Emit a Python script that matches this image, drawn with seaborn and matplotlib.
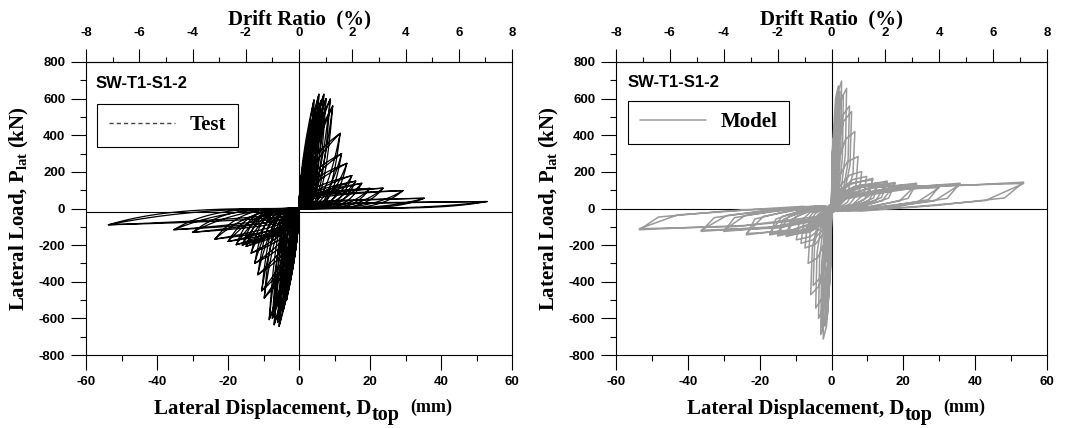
import numpy as np
import pandas as pd
import matplotlib
matplotlib.use("Agg")
import matplotlib.pyplot as plt
import seaborn as sns
from matplotlib.ticker import MultipleLocator
from matplotlib.lines import Line2D

# ---------------- data (cycle peaks) ----------------
test_pos_disp = [0.5, 1.0, 1.5, 2.0, 2.5, 3.0, 3.5, 4.2, 4.8, 5.6, 6.2, 7.0, 7.6, 8.8, 9.5,
                 11.6, 12.0, 13.5, 14.9, 16.0, 17.7, 20.0, 23.7, 29.3, 35.3, 53.0]
test_pos_load = [100, 200, 280, 340, 350, 430, 480, 593, 560, 624, 590, 624, 600, 598, 560,
                 411, 300, 247, 180, 150, 138, 110, 111, 98, 56, 38]
test_neg_disp = [-0.5, -1.0, -1.5, -2.0, -2.5, -3.0, -3.5, -4.5, -5.6, -6.0, -7.0, -7.5, -8.4, -9.8, -10.5,
                 -11.6, -12.5, -13.5, -14.9, -16.0, -17.7, -20.0, -23.7, -30.0, -35.3, -53.7]
test_neg_load = [-100, -200, -280, -350, -400, -450, -500, -560, -644, -620, -635, -600, -607, -489, -450,
                 -362, -300, -244, -207, -200, -198, -180, -167, -130, -116, -89]

model_pos_disp = [0.5, 1.0, 1.5, 1.9, 2.3, 2.8, 3.3, 4.2, 5.0, 5.6, 6.5, 7.4, 8.4, 9.8, 11.5,
                  13.0, 15.5, 17.7, 23.7, 30.0, 35.8, 53.5]
model_pos_load = [200, 380, 520, 669, 640, 696, 620, 656, 560, 529, 420, 284, 202, 175, 165,
                  142, 150, 142, 138, 120, 138, 144]
model_neg_disp = [-0.4, -0.8, -1.2, -1.8, -2.3, -2.7, -3.0, -3.6, -4.4, -5.1, -5.8, -6.5, -7.4, -8.5, -9.8,
                  -12.6, -15.0, -17.2, -23.7, -30.0, -36.3, -53.5]
model_neg_load = [-200, -380, -520, -640, -713, -650, -689, -600, -544, -420, -471, -300, -216, -190, -171,
                  -153, -150, -144, -144, -125, -125, -116]

panel_title = "SW-T1-S1-2"
x_ticks = [-60, -40, -20, 0, 20, 40, 60]
y_ticks = [-800, -600, -400, -200, 0, 200, 400, 600, 800]
drift_ticks = [-8, -6, -4, -2, 0, 2, 4, 6, 8]

# ---------------- loop shapes (rendering helpers) ----------------
def leaf(d, p, a, b, n=24):
    s = np.linspace(0.0, 1.0, n)
    xs = np.r_[d * s, d * s[::-1]]
    ys = np.r_[p * s ** a, p * s[::-1] ** b]
    return xs, ys

def test_path():
    X, Y = [], []
    for dp, pp, dn, pn in zip(test_pos_disp, test_pos_load, test_neg_disp, test_neg_load):
        for d, p in ((dp, pp), (dn, pn)):
            ad = abs(d)
            if ad <= 9.6:
                shapes = [(0.6, 4.0), (0.75, 2.6)]
            elif ad <= 18:
                shapes = [(0.4, 4.5), (0.55, 2.8)]
            else:
                shapes = [(0.2, 5.0), (0.3, 3.5)] if d > 0 else [(0.3, 3.5), (0.45, 2.4)]
            for a, b in shapes:
                xs, ys = leaf(d, p, a, b)
                X.append(xs); Y.append(ys)
    return np.concatenate(X), np.concatenate(Y)

SPIKE = ([0, 0.1, 0.6, 1.0, 0.92, 0.6, 0.15, 0], [0, 0.45, 0.9, 1.0, 0.45, 0.12, -0.03, 0])
WIDE = ([0, 0.05, 0.45, 0.75, 1.0, 0.9, 0.55, 0.15, 0], [0, 0.35, 0.8, 0.9, 1.0, 0.4, 0.12, -0.1, 0])
WIDE2 = ([0, 0.1, 0.5, 1.0, 0.8, 0.4, 0], [0, 0.5, 0.85, 0.95, 0.3, 0.05, 0])

def model_path():
    X, Y = [], []
    for dp, pp, dn, pn in zip(model_pos_disp, model_pos_load, model_neg_disp, model_neg_load):
        for d, p in ((dp, pp), (dn, pn)):
            shapes = [SPIKE] if abs(d) < 10 else [WIDE, WIDE2]
            for fx, fy in shapes:
                X.append(d * np.array(fx)); Y.append(p * np.array(fy))
    return np.concatenate(X), np.concatenate(Y)

tx, ty = test_path()
mx, my = model_path()
df_test = pd.DataFrame({"x": tx, "y": ty})
df_model = pd.DataFrame({"x": mx, "y": my})

# ---------------- style ----------------
sns.set_style("ticks")
plt.rcParams["font.family"] = ["Liberation Sans", "DejaVu Sans"]
plt.rcParams["axes.unicode_minus"] = False
plt.rcParams["text.color"] = "black"
plt.rcParams["xtick.color"] = "black"
plt.rcParams["ytick.color"] = "black"
plt.rcParams["axes.labelcolor"] = "black"
plt.rcParams["mathtext.fontset"] = "custom"
plt.rcParams["mathtext.rm"] = "Liberation Serif:bold"
plt.rcParams["mathtext.bf"] = "Liberation Serif:bold"
plt.rcParams["mathtext.it"] = "Liberation Serif:bold"

SERIF = dict(family="Liberation Serif", weight="bold")

fig = plt.figure(figsize=(10.65, 4.28), dpi=100)
axL = fig.add_axes([86 / 1065, 73 / 428, 426 / 1065, 293 / 428])
axR = fig.add_axes([616 / 1065, 73 / 428, 431 / 1065, 293 / 428])

sns.lineplot(data=df_test, x="x", y="y", sort=False, estimator=None, color="black",
             linewidth=0.9, ax=axL, legend=False)
sns.lineplot(data=df_model, x="x", y="y", sort=False, estimator=None, color="#9a9a9a",
             linewidth=1.1, ax=axR, legend=False)

def style_axes(ax, zero_y, label, legend_handle, leg_anchor, title_xy, xlabel_x):
    ax.set_xlim(-60, 60)
    ax.set_ylim(-800, 800)
    ax.axvline(0, color="black", lw=0.8, zorder=1)
    ax.axhline(zero_y, color="black", lw=0.8, zorder=1)
    ax.set_xticks(x_ticks)
    ax.set_yticks(y_ticks)
    ax.xaxis.set_minor_locator(MultipleLocator(10))
    ax.yaxis.set_minor_locator(MultipleLocator(100))
    ax.tick_params(which="major", direction="out", length=10.5, width=0.8, labelsize=9.5, pad=4.5,
                   top=False, right=False, colors="black")
    ax.tick_params(which="minor", direction="out", length=4, width=0.8, top=False, right=False,
                   colors="black")
    for lab in ax.get_xticklabels() + ax.get_yticklabels():
        lab.set_fontweight("bold")
    for sp in ax.spines.values():
        sp.set_visible(True)
        sp.set_linewidth(0.8)
        sp.set_color("black")
    ax.set_xlabel("")
    ax.set_ylabel(r"Lateral Load, P$_{\mathrm{lat}}$ (kN)", fontsize=15, color="black", **SERIF)
    ax.yaxis.set_label_coords(-0.128, 0.5)

    sec = ax.secondary_xaxis("top", functions=(lambda v: v * 8 / 60, lambda v: v * 60 / 8))
    sec.set_xticks(drift_ticks)
    sec.xaxis.set_minor_locator(MultipleLocator(1))
    sec.tick_params(which="major", direction="out", length=9.5, width=0.8, labelsize=9.5, pad=7,
                    colors="black")
    sec.tick_params(which="minor", direction="out", length=3.5, width=0.8, colors="black")
    for lab in sec.get_xticklabels():
        lab.set_fontweight("bold")
    sec.spines["top"].set_linewidth(0.8)
    sec.spines["top"].set_color("black")

    ax.text(title_xy[0], title_xy[1], panel_title, transform=ax.transAxes, fontsize=12,
            fontweight="bold", ha="left", va="baseline", color="black")

    leg = ax.legend(handles=[legend_handle], labels=[label], loc="upper left",
                    bbox_to_anchor=leg_anchor, borderaxespad=0, frameon=True, fancybox=False,
                    framealpha=1, edgecolor="black", handlelength=3.2, handletextpad=0.7,
                    borderpad=0.55, prop=dict(size=15, **SERIF))
    leg.get_frame().set_linewidth(0.8)

    # x label composed as in the reference: main text, lowered "top", then "(mm)"
    t1 = fig.text(xlabel_x, 14 / 428, "Lateral Displacement, D", fontsize=15, ha="left",
                  va="baseline", color="black", **SERIF)
    t2 = ax.annotate("top", xy=(1, 0), xycoords=t1, xytext=(0.5, -4), textcoords="offset points",
                     fontsize=14.5, ha="left", va="bottom", annotation_clip=False, **SERIF)
    ax.annotate("(mm)", xy=(1, 0), xycoords=t2, xytext=(7, 6.5), textcoords="offset points",
                fontsize=13, ha="left", va="bottom", annotation_clip=False, **SERIF)

    cx = (ax.get_position().x0 + ax.get_position().x1) / 2
    fig.text(cx, 1 - 24 / 428, "Drift Ratio  (%)", fontsize=15, ha="center", va="baseline",
             color="black", **SERIF)

style_axes(axL, -18, "Test",
           Line2D([], [], color="#444444", lw=1.0, linestyle=(0, (3, 2.2))),
           (0.026, 0.857), (0.023, 0.911), 154 / 1065)
style_axes(axR, 0, "Model",
           Line2D([], [], color="#9a9a9a", lw=1.1),
           (0.028, 0.867), (0.026, 0.913), 687 / 1065)

fig.savefig("out.png", dpi=100)
